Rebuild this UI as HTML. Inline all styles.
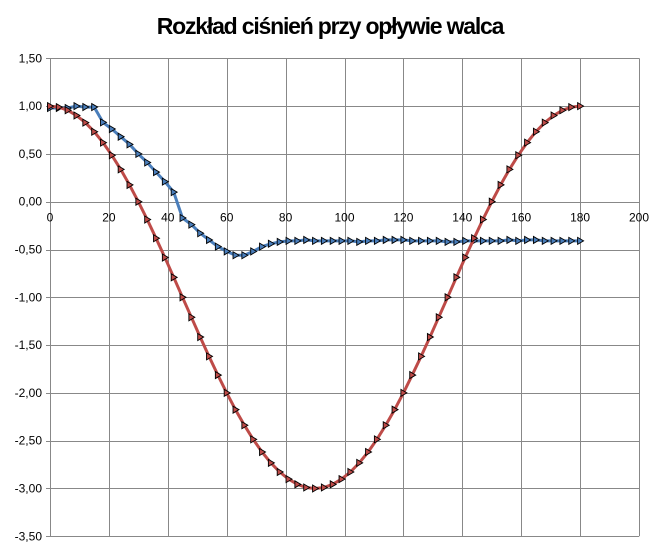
<!DOCTYPE html>
<html><head><meta charset="utf-8"><style>
html,body{margin:0;padding:0;background:#fff;}
svg{display:block;font-family:"Liberation Sans","DejaVu Sans",sans-serif;}
</style></head><body>
<svg id="c" width="659" height="554" viewBox="0 0 659 554" xmlns="http://www.w3.org/2000/svg">
<rect width="659" height="554" fill="#fff"/>
<text x="330" y="34" text-anchor="middle" font-size="23" font-weight="bold" letter-spacing="-1.2">Rozkład ciśnień przy opływie walca</text>
<g id="grid" stroke="#888" stroke-width="1"></g>
<g id="lab" font-size="12" fill="#000"></g>
<g id="ser"></g>
</svg>
<script>
var NS="http://www.w3.org/2000/svg";
function el(t,a,p){var e=document.createElementNS(NS,t);for(var k in a)e.setAttribute(k,a[k]);p.appendChild(e);return e;}
var x0=50,xs=2.945,y0=201.7,ys=95.6;
function X(v){return x0+v*xs}function Y(v){return y0-v*ys}
var g=document.getElementById('grid'),l=document.getElementById('lab'),s=document.getElementById('ser');
for(var i=0;i<=10;i++){var x=Math.round(X(i*20))+0.5;el('line',{x1:x,y1:Y(1.5),x2:x,y2:Y(-3.5)},g);
 var t=el('text',{x:X(i*20),y:Y(0)+20,'text-anchor':'middle'},l);t.textContent=i*20;}
for(var i=0;i<=10;i++){var v=1.5-i*0.5,y=Math.round(Y(v))+0.5;el('line',{x1:X(0)-4,y1:y,x2:X(200),y2:y},g);
 var t=el('text',{x:42,y:Y(v)+4,'text-anchor':'end'},l);t.textContent=v.toFixed(2).replace('.',',').replace('-0,00','0,00');}
var blue=[0.98,0.98,0.98,1.0,0.99,0.99,0.83,0.76,0.68,0.60,0.50,0.41,0.31,0.21,0.10,-0.17,-0.24,-0.33,-0.40,-0.47,-0.52,-0.56,-0.56,-0.52,-0.47,-0.44,-0.42,-0.41,-0.41,-0.40,-0.41,-0.41,-0.41,-0.41,-0.41,-0.42,-0.41,-0.41,-0.40,-0.40,-0.40,-0.41,-0.41,-0.41,-0.41,-0.42,-0.42,-0.41,-0.41,-0.41,-0.41,-0.41,-0.40,-0.41,-0.40,-0.40,-0.41,-0.41,-0.41,-0.41,-0.41];
function series(vals,col,mf){var d='',pts=[];for(var i=0;i<vals.length;i++){var x=X(i*3),y=Y(vals[i]);pts.push([x,y]);d+=(i?'L':'M')+x.toFixed(1)+' '+y.toFixed(1);}
 el('path',{d:d,fill:'none',stroke:col,'stroke-width':3,'stroke-linejoin':'round'},s);
 pts.forEach(function(p){el('path',{d:'M'+(p[0]-2.5)+' '+(p[1]-3.5)+'L'+(p[0]+3.5)+' '+p[1]+'L'+(p[0]-2.5)+' '+(p[1]+3.5)+'Z',fill:mf,stroke:'#000','stroke-width':0.9},s);});}
series(blue,'#4a7ebb','#4a7ebb');
var red=[];for(var i=0;i<=60;i++){var a=i*3*Math.PI/180;red.push(1-4*Math.sin(a)*Math.sin(a));}
series(red,'#be4b48','#be4b48');
</script>
</body></html>
